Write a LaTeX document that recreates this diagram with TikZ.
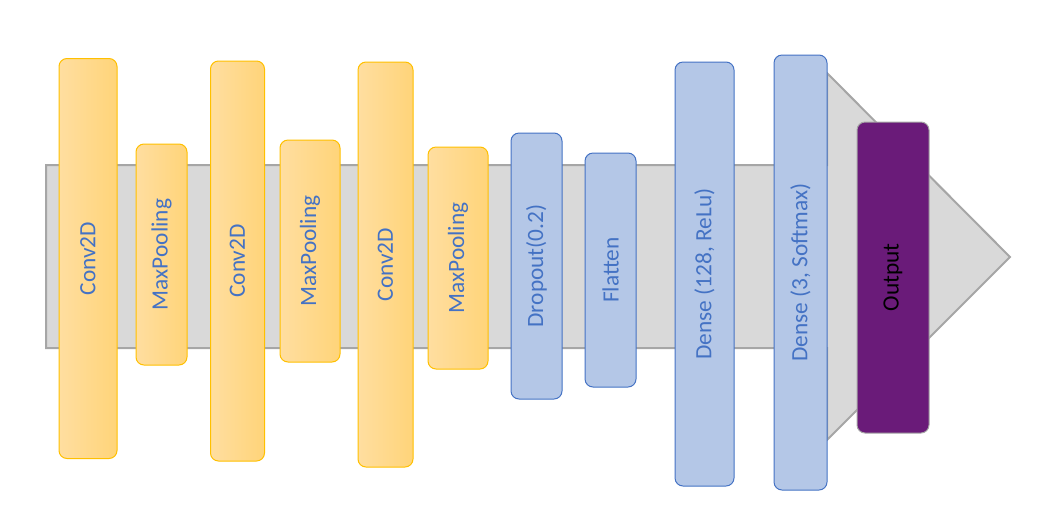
\documentclass[tikz,border=0pt]{standalone}
\usepackage{fontspec}
\setmainfont{Carlito}
\usetikzlibrary{positioning}

\definecolor{convline}{HTML}{FFC000}
\definecolor{convlight}{HTML}{FFDEA0}
\definecolor{convdark}{HTML}{FFD479}
\definecolor{denseline}{HTML}{4472C4}
\definecolor{densefill}{HTML}{B4C7E7}
\definecolor{outfill}{HTML}{6A1B79}
\definecolor{flowfill}{HTML}{D9D9D9}
\definecolor{flowline}{HTML}{A6A6A6}

\begin{document}
\begin{tikzpicture}[x=0.75pt, y=-0.75pt,
    every node/.style={font=\fontsize{17.5}{21}\selectfont},
    layer/.style={rotate=90, rounded corners=6pt, inner sep=0pt, line width=0.75pt},
    convlayer/.style={layer, draw=convline, left color=convlight, right color=convdark, text=denseline},
    denselayer/.style={layer, draw=denseline, fill=densefill, text=denseline},
    outlayer/.style={layer, draw=flowline, fill=outfill, text=black}]
    \useasboundingbox (0,0) rectangle (1044,522);

    % flow arrow in the background
    \draw [fill=flowfill, draw=flowline, line width=1.5pt] (46,165) -- (827,165) -- (827,73) -- (1010,257) -- (827,440) -- (827,348) -- (46,348) -- cycle;

    \node [convlayer, minimum width=300pt, minimum height=43.5pt] (conv1) at (88,258.5) {Conv2D};
    \node [convlayer, minimum width=165.75pt, minimum height=38.25pt] (pool1) at (161.5,254.5) {MaxPooling};
    \node [convlayer, minimum width=300pt, minimum height=40.5pt] (conv2) at (237.5,261) {Conv2D};
    \node [convlayer, minimum width=166.5pt, minimum height=45pt] (pool2) at (310,251) {MaxPooling};
    \node [convlayer, minimum width=303.75pt, minimum height=41.25pt] (conv3) at (385.5,264.5) {Conv2D};
    \node [convlayer, minimum width=166.5pt, minimum height=45pt] (pool3) at (458,258) {MaxPooling};

    \node [denselayer, minimum width=199.5pt, minimum height=38.25pt] (dropout) at (536.5,266) {Dropout(0.2)};
    \node [denselayer, minimum width=175.5pt, minimum height=38.25pt] (flatten) at (610.5,270) {Flatten};
    \node [denselayer, minimum width=318pt, minimum height=44.25pt] (dense1) at (704.5,274) {Dense (128, ReLu)};
    \node [denselayer, minimum width=326.25pt, minimum height=39.75pt] (dense2) at (800.5,272.5) {Dense (3, Softmax)};

    \node [outlayer, minimum width=233.25pt, minimum height=54pt] (output) at (893,277.5) {Output};
\end{tikzpicture}
\end{document}
